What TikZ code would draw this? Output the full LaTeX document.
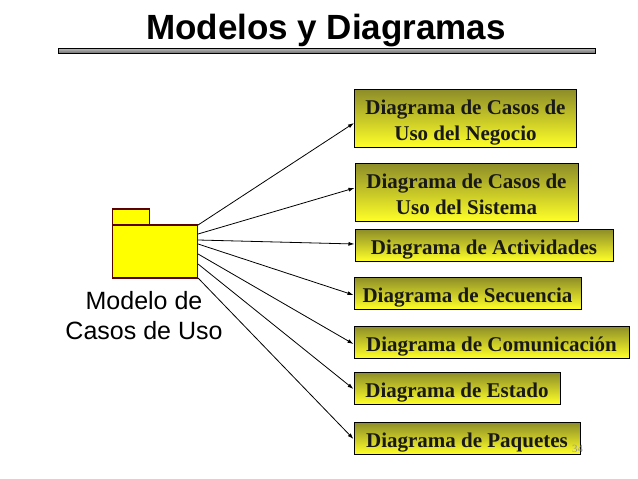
\documentclass[tikz,border=0pt]{standalone}
\usepackage{fontspec}
\setmainfont{Liberation Serif}
\newfontfamily\titlefont{Liberation Sans}
\usetikzlibrary{arrows.meta, positioning}
\definecolor{boxtop}{RGB}{140,140,40}
\definecolor{boxbottom}{RGB}{255,255,40}
\definecolor{folderline}{RGB}{90,0,0}
\definecolor{folderfill}{RGB}{255,255,0}

\begin{document}
\begin{tikzpicture}[
    x=1pt, y=-1pt,
    diagrama/.style={rectangle, draw=black, line width=1pt, top color=boxtop, bottom color=boxbottom, minimum height=32pt, inner sep=0pt, text height=20pt, text depth=2pt, align=center, font=\fontsize{21}{26}\selectfont\bfseries, text=black!90},
    doble/.style={diagrama, minimum height=58pt, text height=46pt},
    carpeta/.style={rectangle, draw=folderline, line width=1.1pt, fill=folderfill, inner sep=0pt},
    association/.style={draw, -{Latex[length=6pt,width=4pt]}, line width=0.8pt}
]
    \useasboundingbox (0,0) rectangle (638,479);
    % Title
    \node[font=\titlefont\fontsize{35}{40}\selectfont\bfseries, anchor=base] (titulo) at (326,39) {Modelos y Diagramas};
    \node[rectangle, draw=black, line width=1pt, top color=black!25, bottom color=black!55, minimum width=537pt, minimum height=5pt, inner sep=0pt] (regla) at (326.5,50.5) {};
    % Folder
    \node[carpeta, minimum width=37pt, minimum height=16pt] (pestana) at (131,217) {};
    \node[carpeta, minimum width=85pt, minimum height=53pt] (carpeta) at (155,251.5) {};
    \node[font=\titlefont\fontsize{25}{30}\selectfont, align=center] (modelo) at (144,316) {Modelo de\\Casos de Uso};
    % Boxes
    \node[doble, minimum width=222pt] (negocio) at (465.5,118) {Diagrama de Casos de\\Uso del Negocio};
    \node[doble, minimum width=223pt] (sistema) at (466.5,192) {Diagrama de Casos de\\Uso del Sistema};
    \node[diagrama, minimum width=258pt] (actividades) at (484,245) {Diagrama de Actividades};
    \node[diagrama, minimum width=227pt] (secuencia) at (467.5,293) {Diagrama de Secuencia};
    \node[diagrama, minimum width=275pt] (comunicacion) at (491.5,342) {Diagrama de Comunicación};
    \node[diagrama, minimum width=206pt] (estado) at (457,388) {Diagrama de Estado};
    \node[diagrama, minimum width=226pt] (paquetes) at (467,438) {Diagrama de Paquetes};
    \node[font=\fontsize{11}{12}\selectfont, text=black!40, anchor=base] (pagina) at (577.5,452) {34};
    % Relationships
    \draw[association] ([yshift=26.5pt]carpeta.east) -- ([yshift=-5pt]negocio.west);
    \draw[association] ([yshift=17.5pt]carpeta.east) -- ([yshift=4pt]sistema.west);
    \draw[association] ([yshift=11.5pt]carpeta.east) -- ([yshift=1pt]actividades.west);
    \draw[association] ([yshift=7.5pt]carpeta.east) -- ([yshift=-2pt]secuencia.west);
    \draw[association] ([yshift=-2.5pt]carpeta.east) -- ([yshift=-2pt]comunicacion.west);
    \draw[association] ([yshift=-12.5pt]carpeta.east) -- ([yshift=-1pt]estado.west);
    \draw[association] ([yshift=-26.5pt]carpeta.east) -- ([yshift=-1pt]paquetes.west);
\end{tikzpicture}
\end{document}
